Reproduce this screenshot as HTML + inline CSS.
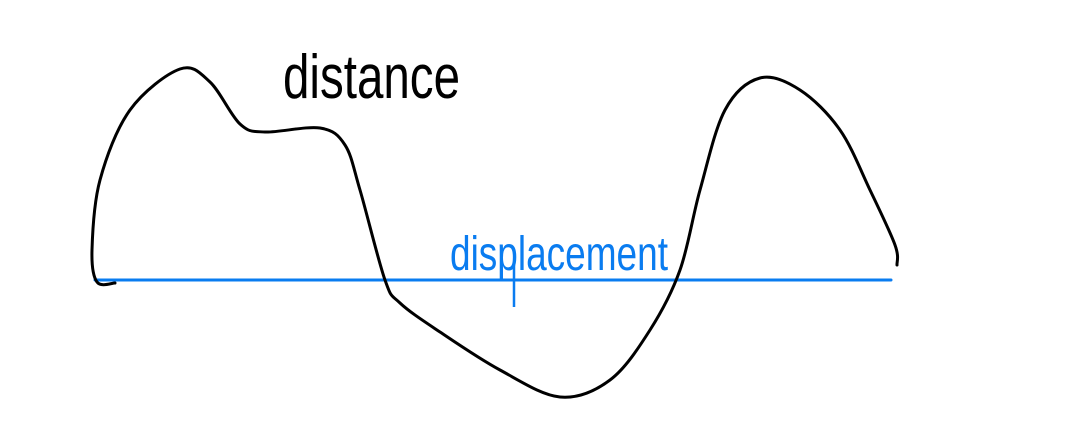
<!DOCTYPE html>
<html>
<head>
<meta charset="utf-8">
<style>
  html,body{margin:0;padding:0;background:#fff;}
  svg{display:block;}
</style>
</head>
<body>
<svg width="1080" height="421" viewBox="0 0 1080 421" xmlns="http://www.w3.org/2000/svg">
  <rect width="1080" height="421" fill="#fff"/>
  <line x1="95" y1="280" x2="891" y2="280" stroke="#0a7cf0" stroke-width="3" stroke-linecap="round"/>
  <path id="dist" fill="none" stroke="#000" stroke-width="3" stroke-linecap="round" stroke-linejoin="round"/>
  <text x="283" y="98" font-family="'Liberation Sans', sans-serif" font-size="62" fill="#000" textLength="177" lengthAdjust="spacingAndGlyphs">distance</text>
  <text x="450" y="270" font-family="'Liberation Sans', sans-serif" font-size="48" fill="#0a7cf0" textLength="218" lengthAdjust="spacingAndGlyphs">displacement</text>
  <line x1="514" y1="262" x2="514" y2="307" stroke="#0a7cf0" stroke-width="2.5"/>
</svg>
<script>
const xs = [115, 97, 92, 100, 130, 180, 210, 240, 265, 320, 345, 360, 385, 400, 440, 500, 560, 610, 650, 680, 700, 725, 760, 800, 840, 870, 895, 897];
const ys = [283, 282, 250, 180, 110, 69, 82, 124, 132, 128, 145, 190, 280, 303, 332, 370, 397, 380, 330, 270, 190, 110, 78, 90, 130, 190, 245, 265];
function catmull(px, py){
  let d = 'M' + px[0] + ',' + py[0];
  for (let i = 0; i < px.length - 1; i++) {
    const x0 = px[Math.max(i-1,0)], y0 = py[Math.max(i-1,0)];
    const x1 = px[i], y1 = py[i], x2 = px[i+1], y2 = py[i+1];
    const x3 = px[Math.min(i+2,px.length-1)], y3 = py[Math.min(i+2,px.length-1)];
    const c1x = x1 + (x2 - x0)/6, c1y = y1 + (y2 - y0)/6;
    const c2x = x2 - (x3 - x1)/6, c2y = y2 - (y3 - y1)/6;
    d += ' C' + c1x + ',' + c1y + ' ' + c2x + ',' + c2y + ' ' + x2 + ',' + y2;
  }
  return d;
}
document.getElementById('dist').setAttribute('d', catmull(xs, ys));
</script>
</body>
</html>
